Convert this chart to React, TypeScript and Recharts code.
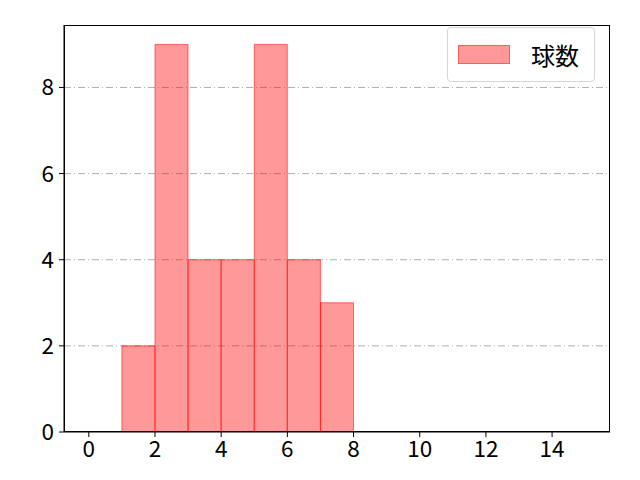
import React from 'react';
import { BarChart, Bar, XAxis, YAxis, CartesianGrid } from 'recharts';

const binCenters = [1.5, 2.5, 3.5, 4.5, 5.5, 6.5, 7.5];
const counts = [2, 9, 4, 4, 9, 4, 3];
const xTicks = [0, 2, 4, 6, 8, 10, 12, 14];
const yTicks = [0, 2, 4, 6, 8];
const seriesName = '球数';

const data = binCenters.map((x, i) => ({ x, count: counts[i] }));

const FONT = '"Noto Sans CJK JP", "DejaVu Sans", sans-serif';

const App: React.FC = () => (
  <div style={{ position: 'absolute', left: 0, top: 0, width: 640, height: 480, background: '#fff' }}>
    <BarChart
      width={640}
      height={480}
      data={data}
      margin={{ top: 25, right: 30, bottom: 0, left: 0 }}
      barCategoryGap={0}
      barGap={0}
    >
      <CartesianGrid
        vertical={false}
        horizontalValues={[2, 4, 6, 8]}
        stroke="#b0b0b0"
        strokeDasharray="7 3 1 3"
      />
      <XAxis
        dataKey="x"
        type="number"
        domain={[-0.75, 15.75]}
        ticks={xTicks}
        allowDataOverflow
        height={48}
        tickSize={5}
        tickMargin={4}
        tick={{ fill: '#000', fontSize: 22.5, fontFamily: FONT }}
        tickLine={{ stroke: '#000' }}
        axisLine={{ stroke: '#000' }}
      />
      <YAxis
        domain={[0, 9.45]}
        ticks={yTicks}
        allowDataOverflow
        width={64}
        tickSize={5}
        tickMargin={5}
        tick={{ fill: '#000', fontSize: 22.5, fontFamily: FONT }}
        tickLine={{ stroke: '#000' }}
        axisLine={{ stroke: '#000' }}
      />
      <Bar
        dataKey="count"
        name={seriesName}
        fill="rgba(255,0,0,0.4)"
        stroke="rgba(255,0,0,0.55)"
        strokeWidth={1}
        isAnimationActive={false}
      />
    </BarChart>
    <div
      style={{
        position: 'absolute',
        left: 64,
        top: 25,
        width: 546,
        height: 407,
        border: '1px solid #000',
        boxSizing: 'border-box',
        pointerEvents: 'none',
      }}
    />
    <div
      style={{
        position: 'absolute',
        left: 447,
        top: 27,
        width: 148,
        height: 55,
        border: '1px solid #d6d6d6',
        borderRadius: 4,
        background: 'rgba(255,255,255,0.8)',
        boxSizing: 'border-box',
        display: 'flex',
        alignItems: 'center',
        fontFamily: FONT,
      }}
    >
      <div
        style={{
          width: 52,
          height: 19,
          marginLeft: 10,
          background: 'rgba(255,0,0,0.4)',
          border: '1px solid rgba(255,0,0,0.4)',
          boxSizing: 'border-box',
        }}
      />
      <span style={{ marginLeft: 21, fontSize: 24, color: '#000' }}>{seriesName}</span>
    </div>
  </div>
);

export default App;
